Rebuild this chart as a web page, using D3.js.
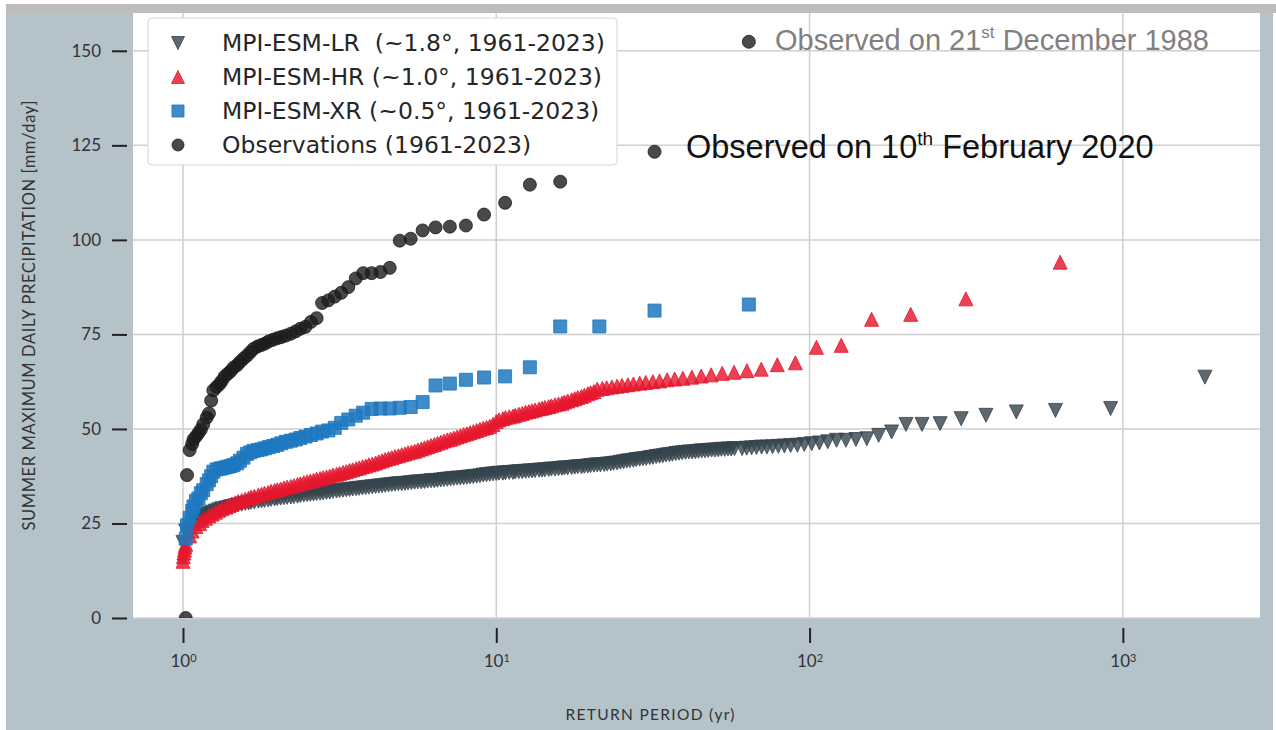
<!DOCTYPE html>
<html>
<head>
<meta charset="utf-8">
<script src="https://cdn.jsdelivr.net/npm/d3@7/dist/d3.min.js"></script>
<style>
  body { margin: 0; background: #fff; }
</style>
</head>
<body>
<div id="plot"></div>
<script>
// ---------- values ----------
const yTicks = [0, 25, 50, 75, 100, 125, 150];
const xTicks = [1, 10, 100, 1000];
const xTickExp = ["0", "1", "2", "3"];

// return periods of a 63-year record (observations and MPI-ESM-XR)
const rp63 = [64, 32, 21.33, 16, 12.8, 10.67, 9.14, 8, 7.11, 6.4,
  5.82, 5.33, 4.92, 4.57, 4.27, 4, 3.76, 3.56, 3.37, 3.2,
  3.05, 2.91, 2.78, 2.67, 2.56, 2.46, 2.37, 2.29, 2.21, 2.13,
  2.06, 2, 1.94, 1.88, 1.83, 1.78, 1.73, 1.68, 1.64, 1.6,
  1.56, 1.52, 1.49, 1.45, 1.42, 1.39, 1.36, 1.33, 1.31, 1.28,
  1.25, 1.23, 1.21, 1.19, 1.16, 1.14, 1.12, 1.10, 1.08, 1.07,
  1.05, 1.03, 1.02];

// null = hidden under the legend
const obsValues = [152.4, 123.3, null, 115.4, 114.6, 109.8, 106.7, 103.8, 103.5, 103.3,
  102.5, 100.3, 99.8, 92.6, 91.5, 91.2, 91.2, 89.8, 87.5, 86.0,
  85.0, 84.0, 83.3, 79.3, 78.3, 77.0, 76.5, 75.8, 75.2, 74.7,
  74.3, 74.0, 73.6, 73.2, 72.6, 72.2, 71.8, 71.2, 70.3, 69.4,
  68.6, 67.7, 66.9, 66.2, 65.3, 64.6, 63.9, 62.7, 61.9, 61.1,
  60.2, 57.5, 54.1, 53.0, 51.2, 49.8, 48.9, 48.0, 47.2, 46.0,
  44.4, 37.8, 0];

const xrValues = [82.9, 81.3, 77.1, 77.1, 66.3, 63.9, 63.6, 63.0, 62.0, 61.5,
  57.1, 55.8, 55.6, 55.4, 55.4, 55.3, 54.3, 53.5, 52.5, 51.6,
  50.3, 49.6, 49.3, 48.8, 48.4, 48.0, 47.6, 47.2, 46.9, 46.6,
  46.2, 45.8, 45.5, 45.2, 44.9, 44.6, 44.4, 44.2, 43.8, 43.4,
  42.4, 41.6, 40.9, 40.5, 40.2, 40.0, 39.8, 39.6, 39.5, 39.3,
  38.7, 37.5, 36.4, 35.4, 33.8, 33.0, 31.6, 31.0, 29.5, 28.3,
  26.5, 24.5, 21.0];

// largest ensemble values, drawn one by one
const lrTailRP = [1828, 914, 609.3, 457, 365.6, 304.7, 261.1, 228.5, 203.1, 182.8,
  166.2, 152.3, 140.6, 130.6, 121.9, 114.3, 107.5, 101.6, 96.2, 91.4,
  87.0, 83.1, 79.5, 76.2, 73.1, 70.3, 67.7, 65.3, 63.0, 60.9];
const lrTail = [63.7, 55.4, 54.9, 54.5, 53.6, 52.7, 51.4, 51.2, 51.2, 49.2,
  48.3, 47.4, 47.2, 47.0, 47.0, 46.6, 46.3, 46.1, 45.9, 45.7,
  45.6, 45.5, 45.4, 45.3, 45.2, 45.2, 45.1, 45.0, 44.9, 44.8];

const hrTailRP = [631, 315.5, 210.3, 157.8, 126.2, 105.2, 90.1, 78.9, 70.1, 63.1,
  57.4, 52.6, 48.5, 45.1, 42.1, 39.4, 37.1, 35.1, 33.2, 31.6,
  30.0, 28.7, 27.4, 26.3, 25.2, 24.3, 23.4, 22.5, 21.8, 21.0];
const hrTail = [94.1, 84.4, 80.3, 79.0, 72.1, 71.6, 67.5, 67.0, 65.8, 65.4,
  65.0, 64.7, 64.3, 64.0, 63.7, 63.4, 63.2, 63.0, 62.7, 62.5,
  62.3, 62.1, 61.9, 61.7, 61.5, 61.3, 61.1, 60.9, 60.7, 60.5];
const hrLowRP = [1.003, 1.007, 1.011, 1.015];
const hrLow = [16.2, 17.2, 18.0, 18.8];

// dense part of the ensembles: band read at E96 return periods
const e96 = [1.00, 1.02, 1.05, 1.07, 1.10, 1.13, 1.15, 1.18, 1.21, 1.24, 1.27, 1.30,
  1.33, 1.37, 1.40, 1.43, 1.47, 1.50, 1.54, 1.58, 1.62, 1.65, 1.69, 1.74,
  1.78, 1.82, 1.87, 1.91, 1.96, 2.00, 2.05, 2.10, 2.15, 2.21, 2.26, 2.32,
  2.37, 2.43, 2.49, 2.55, 2.61, 2.67, 2.74, 2.80, 2.87, 2.94, 3.01, 3.09,
  3.16, 3.24, 3.32, 3.40, 3.48, 3.57, 3.65, 3.74, 3.83, 3.92, 4.02, 4.12,
  4.22, 4.32, 4.42, 4.53, 4.64, 4.75, 4.87, 4.99, 5.11, 5.23, 5.36, 5.49,
  5.62, 5.76, 5.90, 6.04, 6.19, 6.34, 6.49, 6.65, 6.81, 6.98, 7.15, 7.32,
  7.50, 7.68, 7.87, 8.06, 8.25, 8.45, 8.66, 8.87, 9.09, 9.31, 9.53, 9.76];
const bandRP = [...e96, ...e96.map(m => m * 10)];

const lrBand = [20.0, 23.0, 24.5, 25.2, 25.9, 26.5, 27.0, 27.4, 27.7, 28.0,
  28.3, 28.6, 28.9, 29.1, 29.3, 29.5, 29.7, 29.9, 30.1, 30.3,
  30.4, 30.6, 30.7, 30.9, 31.0, 31.1, 31.2, 31.4, 31.5, 31.6,
  31.7, 31.8, 31.9, 32.0, 32.1, 32.2, 32.4, 32.5, 32.6, 32.7,
  32.8, 32.9, 33.0, 33.1, 33.2, 33.3, 33.5, 33.6, 33.7, 33.8,
  33.9, 34.0, 34.1, 34.2, 34.3, 34.4, 34.5, 34.6, 34.7, 34.8,
  34.9, 35.0, 35.1, 35.2, 35.3, 35.4, 35.5, 35.5, 35.6, 35.7,
  35.8, 35.9, 36.0, 36.0, 36.1, 36.2, 36.3, 36.3, 36.4, 36.5,
  36.6, 36.7, 36.8, 36.9, 37.0, 37.0, 37.1, 37.2, 37.3, 37.4,
  37.5, 37.6, 37.8, 37.9, 38.0, 38.1, 38.2, 38.3, 38.3, 38.4,
  38.5, 38.5, 38.6, 38.7, 38.7, 38.8, 38.9, 38.9, 39.0, 39.1,
  39.1, 39.2, 39.3, 39.4, 39.4, 39.5, 39.6, 39.7, 39.7, 39.8,
  39.9, 40.0, 40.0, 40.1, 40.2, 40.3, 40.4, 40.5, 40.5, 40.6,
  40.7, 40.8, 40.9, 41.0, 41.2, 41.3, 41.5, 41.6, 41.7, 41.9,
  42.0, 42.1, 42.2, 42.4, 42.5, 42.7, 42.8, 42.9, 43.1, 43.2,
  43.3, 43.5, 43.6, 43.7, 43.8, 43.9, 43.9, 44.0, 44.1, 44.2,
  44.2, 44.3, 44.4, 44.4, 44.5, 44.6, 44.6, 44.7, 44.7, 44.8];

const hrBand = [15.0, 19.5, 21.7, 23.0, 24.2, 25.0, 25.8, 26.4, 27.0, 27.5,
  28.0, 28.5, 28.9, 29.3, 29.7, 30.1, 30.5, 30.8, 31.1, 31.4,
  31.7, 32.0, 32.2, 32.5, 32.7, 33.0, 33.2, 33.5, 33.7, 33.9,
  34.1, 34.4, 34.6, 34.8, 35.0, 35.3, 35.5, 35.8, 36.0, 36.2,
  36.4, 36.7, 36.9, 37.1, 37.3, 37.5, 37.8, 38.0, 38.2, 38.5,
  38.7, 39.0, 39.2, 39.5, 39.7, 40.0, 40.2, 40.5, 40.7, 41.0,
  41.3, 41.6, 41.9, 42.2, 42.4, 42.7, 42.9, 43.2, 43.4, 43.7,
  43.9, 44.1, 44.4, 44.7, 45.0, 45.3, 45.6, 45.9, 46.2, 46.5,
  46.8, 47.1, 47.3, 47.6, 47.9, 48.2, 48.5, 48.7, 49.0, 49.3,
  49.6, 49.9, 50.2, 50.4, 50.7, 51.2, 52.0, 52.4, 52.7, 53.0,
  53.2, 53.4, 53.6, 53.9, 54.1, 54.4, 54.6, 54.8, 55.0, 55.3,
  55.5, 55.7, 55.9, 56.1, 56.4, 56.6, 56.8, 57.1, 57.4, 57.7,
  58.0, 58.3, 58.6, 58.9, 59.3, 59.6, 59.9];

// ---------- layout ----------
const W = 1276, H = 730;
const plot = {left: 133, right: 1260, top: 13, bottom: 618};

const zip = (xs, ys) => ys.map((v, i) => [xs[i], v]).filter(d => d[1] !== null);

const series = [
  {label: "MPI-ESM-LR  (~1.8°, 1961-2023)", shape: "down", size: 14, color: "#34444c", alpha: 0.8,
   points: [...zip(lrTailRP, lrTail), ...zip(bandRP, lrBand)]},
  {label: "MPI-ESM-HR (~1.0°, 1961-2023)", shape: "up", size: 14, color: "#e5172d", alpha: 0.82,
   points: [...zip(hrTailRP, hrTail), ...zip(bandRP, hrBand), ...zip(hrLowRP, hrLow)]},
  {label: "MPI-ESM-XR (~0.5°, 1961-2023)", shape: "square", size: 13, color: "#1f78c0", alpha: 0.85,
   points: zip(rp63, xrValues)},
  {label: "Observations (1961-2023)", shape: "circle", size: 13, color: "#1c1c1c", alpha: 0.8,
   points: zip(rp63, obsValues)}
];

function shapePath(shape, s) {
  const h = s / 2;
  if (shape === "down") return `M${-h},${-h}L${h},${-h}L0,${h}Z`;
  if (shape === "up") return `M0,${-h}L${h},${h}L${-h},${h}Z`;
  if (shape === "square") return `M${-h},${-h}h${s}v${s}h${-s}Z`;
  return `M${h},0A${h},${h} 0 1,1 ${-h},0A${h},${h} 0 1,1 ${h},0Z`;
}

const svg = d3.select("#plot").append("svg")
    .attr("width", W)
    .attr("height", H);

// backdrop of the figure
svg.append("rect").attr("x", 6).attr("y", 4).attr("width", W - 6).attr("height", 9).attr("fill", "#bdbdbd");
svg.append("rect").attr("x", 6).attr("y", 13).attr("width", 1267).attr("height", H - 13).attr("fill", "#b4c2ca");
svg.append("rect")
    .attr("x", plot.left).attr("y", plot.top)
    .attr("width", plot.right - plot.left).attr("height", plot.bottom - plot.top)
    .attr("fill", "#fff");

svg.append("clipPath").attr("id", "clip").append("rect")
    .attr("x", plot.left).attr("y", plot.top)
    .attr("width", plot.right - plot.left).attr("height", plot.bottom - plot.top);

const x = d3.scaleLog().domain([0.6925, 2740]).range([plot.left, plot.right]);
const y = d3.scaleLinear().domain([0, 160]).range([plot.bottom, plot.top]);

// grid
const grid = svg.append("g").attr("stroke", "#cfcfcf").attr("stroke-width", 1.5);
grid.selectAll("line.h").data(yTicks).join("line").attr("class", "h")
    .attr("x1", plot.left).attr("x2", plot.right)
    .attr("y1", d => y(d)).attr("y2", d => y(d));
grid.selectAll("line.v").data(xTicks).join("line").attr("class", "v")
    .attr("x1", d => x(d)).attr("x2", d => x(d))
    .attr("y1", plot.top).attr("y2", plot.bottom);

// markers
const marks = svg.append("g").attr("clip-path", "url(#clip)");
series.forEach(s => {
  marks.append("g").selectAll("path")
      .data(s.points)
      .join("path")
      .attr("transform", d => `translate(${x(d[0])},${y(d[1])})`)
      .attr("d", shapePath(s.shape, s.size))
      .attr("fill", s.color).attr("fill-opacity", s.alpha)
      .attr("stroke", s.color).attr("stroke-opacity", s.alpha)
      .attr("stroke-width", 1);
});

// axes
svg.append("g")
    .attr("transform", "translate(127,0)")
    .call(d3.axisLeft(y).tickValues(yTicks).tickSize(15).tickPadding(11))
    .call(g => g.select(".domain").remove())
    .call(g => g.selectAll(".tick line").attr("stroke", "#222").attr("stroke-width", 2))
    .call(g => g.selectAll(".tick text")
        .attr("font-family", "Lato, sans-serif").attr("font-size", 17).attr("fill", "#333"));

svg.append("g")
    .attr("transform", `translate(0,${plot.bottom + 10})`)
    .call(d3.axisBottom(x).tickValues(xTicks).tickSize(15).tickPadding(12).tickFormat(() => "10"))
    .call(g => g.select(".domain").remove())
    .call(g => g.selectAll(".tick line").attr("stroke", "#222").attr("stroke-width", 2))
    .call(g => g.selectAll(".tick text")
        .attr("font-family", "Lato, sans-serif").attr("font-size", 17).attr("fill", "#333")
        .append("tspan").attr("dy", "-0.5em").attr("font-size", 11)
        .text((d, i) => xTickExp[i]));

// axis titles
svg.append("text")
    .attr("transform", `translate(35,${(plot.top + plot.bottom) / 2}) rotate(-90)`)
    .attr("text-anchor", "middle")
    .attr("font-family", "Lato, sans-serif").attr("font-size", 16.5).attr("fill", "#333")
    .attr("textLength", 430).attr("lengthAdjust", "spacing")
    .text("SUMMER MAXIMUM DAILY PRECIPITATION [mm/day]");

svg.append("text")
    .attr("x", 650).attr("y", 720)
    .attr("text-anchor", "middle")
    .attr("font-family", "Lato, sans-serif").attr("font-size", 15.5).attr("fill", "#333")
    .attr("textLength", 169).attr("lengthAdjust", "spacing")
    .text("RETURN PERIOD (yr)");

// legend
const legend = svg.append("g");
legend.append("rect")
    .attr("x", 148).attr("y", 18).attr("width", 469).attr("height", 147).attr("rx", 4)
    .attr("fill", "#fff").attr("stroke", "#d4d4d4");
series.forEach((s, i) => {
  const ly = 43 + i * 34;
  legend.append("path")
      .attr("transform", `translate(178,${ly})`)
      .attr("d", shapePath(s.shape, s.size - 1))
      .attr("fill", s.color).attr("fill-opacity", s.alpha)
      .attr("stroke", s.color).attr("stroke-opacity", s.alpha);
  legend.append("text")
      .attr("x", 222).attr("y", ly).attr("dy", "0.35em")
      .attr("xml:space", "preserve").style("white-space", "pre")
      .attr("font-family", "DejaVu Sans, sans-serif").attr("font-size", 23.5).attr("fill", "#262626")
      .text(s.label);
});

// annotations of the two largest observed events
const note1 = svg.append("text")
    .attr("x", 775).attr("y", 50)
    .attr("font-family", "Liberation Sans, Arial, sans-serif").attr("font-size", 29).attr("fill", "#808080");
note1.append("tspan").text("Observed on 21");
note1.append("tspan").attr("dy", -12).attr("font-size", 17).text("st");
note1.append("tspan").attr("dy", 12).text(" December 1988");

const note2 = svg.append("text")
    .attr("x", 686).attr("y", 158)
    .attr("font-family", "Liberation Sans, Arial, sans-serif").attr("font-size", 32.5).attr("fill", "#111");
note2.append("tspan").text("Observed on 10");
note2.append("tspan").attr("dy", -13).attr("font-size", 19).text("th");
note2.append("tspan").attr("dy", 13).text(" February 2020");
</script>
</body>
</html>
